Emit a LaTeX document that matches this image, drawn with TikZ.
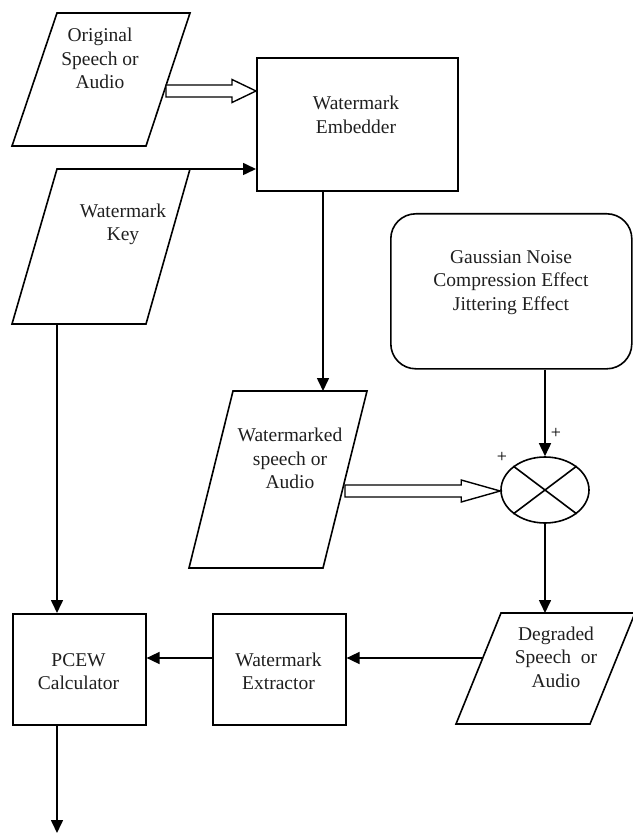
\documentclass[tikz,border=0pt]{standalone}
\usepackage{fontspec}
\setmainfont{Liberation Serif}
\usetikzlibrary{arrows.meta,shapes.geometric,calc}
\begin{document}
\begin{tikzpicture}[x=1pt,y=-1pt,line width=1.6pt,line join=miter,
  lbl/.style={font=\fontsize{19.5}{23.5}\selectfont,align=center,inner sep=0pt,text=black!88},
  plus/.style={font=\fontsize{18}{20}\selectfont,inner sep=0pt},
  box/.style={draw,rectangle,inner sep=0pt,anchor=north west},
  arr/.style={-{Triangle[length=13pt,width=12pt]}},
  hollow/.style={draw,fill=white,line width=1.4pt},
  para/.style={draw}]
\useasboundingbox (0,0) rectangle (632,834);

% parallelogram corners
\coordinate (oTL) at (57,13);  \coordinate (oTR) at (190,13);
\coordinate (oBR) at (146,146); \coordinate (oBL) at (12,146);
\coordinate (kTL) at (57,169); \coordinate (kTR) at (190,169);
\coordinate (kBR) at (146,324); \coordinate (kBL) at (12,324);
\coordinate (wTL) at (233,391); \coordinate (wTR) at (367,391);
\coordinate (wBR) at (323,568); \coordinate (wBL) at (189,568);
\coordinate (dTL) at (501,613); \coordinate (dTR) at (635,613);
\coordinate (dBR) at (590,724); \coordinate (dBL) at (456,724);

\draw[para] (oTL) -- (oTR) -- (oBR) -- (oBL) -- cycle;
\draw[para] (kTL) -- (kTR) -- (kBR) -- (kBL) -- cycle;
\draw[para] (wTL) -- (wTR) -- (wBR) -- (wBL) -- cycle;
\draw[para] (dTL) -- (dTR) -- (dBR) -- (dBL) -- cycle;

% boxes
\node[box,minimum width=201pt,minimum height=133pt] (emb) at (256,57) {};
\node[box,minimum width=133pt,minimum height=111pt] (pcew) at (12,613) {};
\node[box,minimum width=133pt,minimum height=111pt] (ext) at (212,613) {};
\node[box,rounded corners=25pt,minimum width=241pt,minimum height=155pt] (noise) at (390,213) {};
\node[draw,ellipse,inner sep=0pt,minimum width=88pt,minimum height=66pt] (mix) at (545,490) {};
\draw (mix.37) -- (mix.217);
\draw (mix.143) -- (mix.323);

% texts
\node[lbl] (oT) at (100,58.5) {Original\\Speech or\\Audio};
\node[lbl] (kT) at (123,224.5) {Watermark\\Key};
\node[lbl] (eT) at (356,115) {Watermark\\Embedder};
\node[lbl] (nT) at (511,282.5) {Gaussian Noise\\Compression Effect\\Jittering Effect};
\node[lbl] (wT) at (290,458.5) {Watermarked\\speech or\\Audio};
\node[lbl] (dT) at (556,657) {Degraded\\Speech\ \ or\\Audio};
\node[lbl] (pT) at (78.5,671.5) {PCEW\\Calculator};
\node[lbl] (xT) at (278.5,671.5) {Watermark\\Extractor};
\node[plus] (p1) at (556,433) {+};
\node[plus] (p2) at (502,457) {+};

% hollow arrow: original -> embedder
\coordinate (a1s) at (166,91);
\coordinate (a1e) at (emb.west |- a1s);
\draw[hollow] ($(a1s)+(0,-6)$) -- ($(a1e)+(-24,-6)$) -- ($(a1e)+(-24,-11.5)$) -- (a1e)
  -- ($(a1e)+(-24,11.5)$) -- ($(a1e)+(-24,6)$) -- ($(a1s)+(0,6)$) -- cycle;

% hollow arrow: watermarked -> mixer
\coordinate (a2s) at (345,491);
\coordinate (a2e) at (mix.west |- a2s);
\draw[hollow] ($(a2s)+(0,-6)$) -- ($(a2e)+(-39,-6)$) -- ($(a2e)+(-39,-11)$) -- (a2e)
  -- ($(a2e)+(-39,11)$) -- ($(a2e)+(-39,6)$) -- ($(a2s)+(0,6)$) -- cycle;

% key -> embedder
\draw[arr] (kTR) -- (kTR -| emb.west);
% embedder -> watermarked
\coordinate (e1) at ($(emb.south west)+(67,0)$);
\draw[arr] (e1) -- (e1 |- wTL);
% key -> pcew
\coordinate (kB) at ($(kBL)+(45,0)$);
\draw[arr] (kB) -- (kB |- pcew.north);
% pcew output
\coordinate (out) at (57,833);
\draw[arr] (kB |- pcew.south) -- (out);
% noise -> mixer
\draw[arr] (mix.north |- noise.south) -- (mix.north);
% mixer -> degraded
\draw[arr] (mix.south) -- (mix.south |- dTL);
% degraded -> extractor
\coordinate (d1) at (483,658);
\draw[arr] (d1) -- (d1 -| ext.east);
% extractor -> pcew
\coordinate (x1) at (ext.west |- d1);
\draw[arr] (x1) -- (x1 -| pcew.east);
\end{tikzpicture}
\end{document}
